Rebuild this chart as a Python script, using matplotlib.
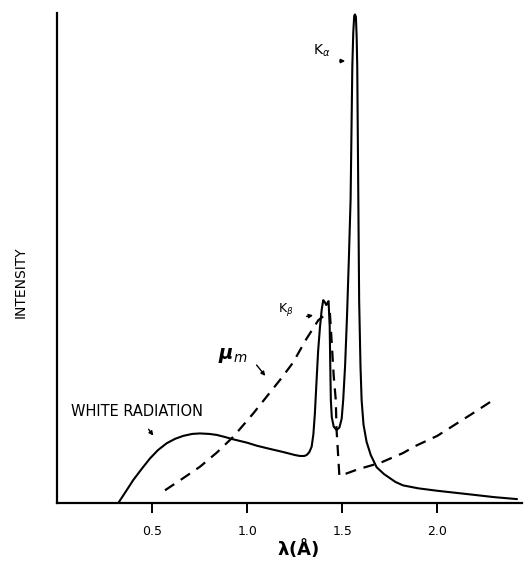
import numpy as np
import matplotlib
matplotlib.use("Agg")
import matplotlib.pyplot as plt

plt.rcParams["font.family"] = ["DejaVu Sans"]
plt.rcParams["mathtext.fontset"] = "dejavusans"

# Tube spectrum (solid line): wavelength in angstrom, relative intensity
spec_wl = [0.321, 0.36, 0.40, 0.445, 0.488, 0.53, 0.576, 0.62, 0.663, 0.71,
           0.751, 0.80, 0.839, 0.88, 0.926, 1.0, 1.05, 1.102, 1.19, 1.25,
           1.277, 1.30, 1.313, 1.327, 1.339, 1.348, 1.356, 1.365, 1.373, 1.383,
           1.392, 1.40, 1.408, 1.416, 1.423, 1.428, 1.434, 1.437, 1.440, 1.445,
           1.455, 1.47, 1.485, 1.497, 1.505, 1.515, 1.525, 1.535, 1.544, 1.553,
           1.558, 1.563, 1.567, 1.572, 1.576, 1.579, 1.589, 1.596, 1.602, 1.612,
           1.628, 1.65, 1.681, 1.72, 1.75, 1.78, 1.82, 1.9, 2.0, 2.175, 2.3, 2.42]
spec_int = [0.0, 2.3, 4.7, 7.0, 9.1, 10.8, 12.2, 13.1, 13.7, 14.1,
            14.2, 14.1, 13.9, 13.5, 13.0, 12.3, 11.7, 11.2, 10.4, 9.8,
            9.6, 9.6, 9.8, 10.4, 11.5, 14.0, 18.3, 25.1, 31.0, 36.0,
            39.5, 41.4, 41.0, 40.4, 40.9, 41.2, 36.0, 28.0, 21.0, 17.5,
            15.6, 14.9, 15.4, 17.2, 21.0, 28.0, 38.0, 50.0, 62.0, 89.0,
            96.0, 99.4, 99.7, 99.2, 95.0, 89.0, 41.4, 28.0, 21.0, 16.0,
            12.5, 9.8, 7.3, 5.9, 5.1, 4.3, 3.6, 3.0, 2.5, 1.75, 1.2, 0.8]

# Mass absorption coefficient of the filter (dashed line)
mu_wl = [0.567, 0.66, 0.751, 0.84, 0.926, 1.032, 1.10, 1.172, 1.24, 1.31,
         1.374, 1.41, 1.435, 1.441, 1.455, 1.466, 1.47, 1.478, 1.485,
         1.584, 1.70, 1.82, 1.883, 2.0, 2.175, 2.31]
mu_val = [2.6, 5.0, 7.4, 10.3, 13.5, 18.3, 21.6, 25.1, 28.6, 33.4,
          37.3, 38.4, 38.8, 35.0, 26.0, 21.0, 15.0, 10.0, 5.5,
          6.9, 8.2, 10.2, 11.6, 13.7, 18.0, 21.4]

ticks = [0.5, 1.0, 1.5, 2.0]
tick_labels = ["0.5", "1.0", "1.5", "2.0"]


def main():
    fig = plt.figure(figsize=(5.27, 5.65), dpi=100)
    ax = fig.add_axes([0.1087, 0.1097, 0.881, 0.8673])

    ax.plot(spec_wl, spec_int, color="black", lw=1.5,
            solid_joinstyle="round", solid_capstyle="round")
    ax.plot(mu_wl, mu_val, color="black", lw=1.6, linestyle=(0, (5, 3.5)))

    ax.set_xlim(0, 2.444)
    ax.set_ylim(0, 100)
    for side in ["top", "right"]:
        ax.spines[side].set_visible(False)
    ax.spines["left"].set_linewidth(1.6)
    ax.spines["bottom"].set_linewidth(1.6)

    ax.set_xticks(ticks)
    ax.set_xticklabels(tick_labels, fontsize=9)
    ax.tick_params(axis="x", direction="out", length=7, width=1.4, pad=9)
    ax.set_yticks([])

    ax.set_xlabel(r"$\mathbf{\lambda}$" + "(Å)", fontsize=13, fontweight="bold")
    ax.xaxis.set_label_coords(0.518, -0.068)
    ax.text(-0.08, 0.45, "INTENSITY", transform=ax.transAxes, rotation=90,
            ha="center", va="center", fontsize=10)

    arrow = dict(arrowstyle="-|>", lw=1.0, color="black", mutation_scale=6)
    ax.text(1.345, 92.2, r"K$_{\alpha}$", fontsize=10, ha="left", va="center")
    ax.annotate("", xy=(1.53, 90.2), xytext=(1.472, 90.2), arrowprops=arrow)

    ax.text(1.162, 39.4, r"K$_{\beta}$", fontsize=9, ha="left", va="center")
    ax.annotate("", xy=(1.361, 38.4), xytext=(1.298, 38.0), arrowprops=arrow)

    ax.text(0.846, 30.2, r"$\boldsymbol{\mu}_m$", fontsize=14, ha="left", va="center")
    ax.annotate("", xy=(1.104, 25.5), xytext=(1.04, 28.6), arrowprops=arrow)

    ax.text(0.07, 18.6, "WHITE RADIATION", fontsize=10.5, ha="left", va="center")
    ax.annotate("", xy=(0.514, 13.3), xytext=(0.472, 15.5), arrowprops=arrow)

    fig.savefig("out.png", dpi=100)


if __name__ == "__main__":
    main()
